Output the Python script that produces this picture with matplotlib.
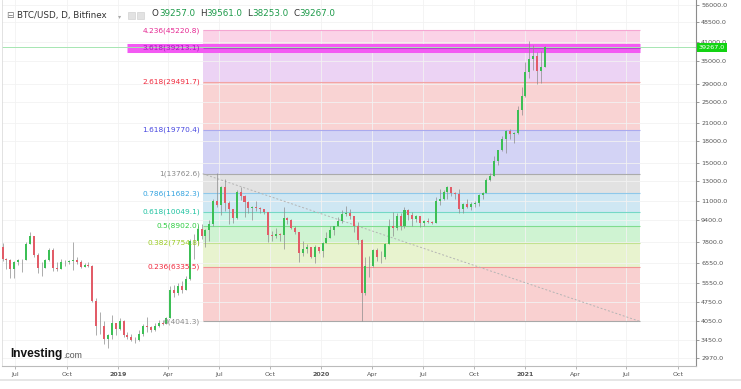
import numpy as np
import pandas as pd
import matplotlib
matplotlib.use("Agg")
import matplotlib.pyplot as plt
from matplotlib.ticker import FixedLocator, FixedFormatter, NullLocator
from matplotlib.patches import Rectangle

# weekly candles (BTC/USD, Bitfinex), one entry per week
week_start = "2018-06-08"
first_open = 7500
close_px = [6800, 6750, 6250, 6600, 6700, 6750, 7700, 8200, 7000, 6300,
            6300, 6700, 7300, 6300, 6250, 6600, 6600, 6650, 6700, 6600,
            6350, 6450, 6400, 4800, 3900, 3900, 3500, 3600, 4000, 3800,
            4050, 3600, 3550, 3450, 3450, 3650, 3900, 3850, 3750, 3900,
            4000, 3950, 4150, 5250, 5100, 5400, 5250, 5750, 7900, 7900,
            8700, 8200, 8600, 9100, 11000, 10600, 12300, 10800, 10300, 9550,
            11800, 11400, 10900, 10350, 10400, 10350, 10250, 10050, 8300, 8200,
            8350, 8250, 9550, 9400, 8800, 8500, 7100, 7350, 7500, 6900,
            7500, 7250, 7750, 8100, 8650, 8900, 9300, 9850, 9900, 9650,
            8900, 7950, 5100, 6400, 6400, 7300, 6900, 6900, 7700, 8900,
            8750, 9700, 8900, 10200, 9750, 9450, 9650, 9150, 9300, 9250,
            9180, 11000, 11200, 11850, 12300, 11700, 11650, 10250, 10700, 10450,
            10700, 10800, 11550, 11750, 13050, 13550, 15300, 16700, 18400, 19700,
            19200, 19250, 23400, 26300, 32000, 35600, 36600, 32300, 33500, 39267]
high_px = [7750, 6850, 6800, 6650, 6800, 6800, 7800, 8500, 8200, 7150,
           6600, 6800, 7400, 7400, 6600, 6800, 6750, 6700, 7800, 6900,
           6700, 6550, 6600, 6450, 4900, 4350, 4050, 3650, 4250, 4000,
           4150, 4100, 3700, 3650, 3550, 3750, 3950, 4200, 3900, 3980,
           4080, 4100, 4200, 5400, 5450, 5550, 5650, 5900, 8000, 8350,
           8900, 9100, 8700, 9400, 11200, 13800, 12400, 13150, 11000, 10200,
           12000, 12350, 11500, 10950, 10500, 10950, 10450, 10300, 10000, 8550,
           8800, 8400, 10450, 9600, 9450, 8900, 8200, 7850, 7650, 7400,
           7600, 7450, 7800, 8450, 8950, 8950, 9600, 10150, 10500, 10250,
           9650, 9200, 8000, 6900, 6950, 7350, 7450, 7250, 7750, 9450,
           10050, 9950, 9900, 10400, 10250, 10000, 9750, 9700, 9350, 9500,
           9300, 11300, 12100, 12050, 12450, 12350, 11800, 12100, 10800, 11150,
           10900, 10950, 11650, 11800, 13300, 13900, 15900, 16800, 18800, 19800,
           19900, 19400, 24200, 28300, 34800, 41500, 40100, 37800, 38000, 39700]
low_px = [6650, 6250, 5780, 5800, 6450, 6100, 6700, 7650, 6900, 6050,
          5880, 6300, 6650, 6150, 6150, 6250, 6400, 6500, 6200, 6500,
          6300, 6350, 6350, 4750, 3600, 3650, 3350, 3250, 3500, 3600,
          3750, 3550, 3500, 3420, 3380, 3420, 3580, 3700, 3700, 3720,
          3850, 3920, 3950, 4150, 4950, 5050, 5100, 5250, 5700, 6800,
          7600, 8000, 7500, 7900, 8950, 10400, 9800, 10100, 9100, 9150,
          9450, 11100, 9600, 9900, 9400, 10100, 9950, 9850, 7800, 7850,
          8100, 7900, 7350, 9050, 8700, 8350, 6600, 6950, 7100, 6850,
          6550, 7100, 6900, 7750, 8050, 8250, 8900, 9150, 9650, 9450,
          8500, 7700, 4041.3, 5050, 5850, 6350, 6650, 6550, 6800, 7700,
          8200, 8600, 8650, 8750, 9350, 8950, 9200, 8850, 8950, 9150,
          9050, 9150, 10600, 11100, 11150, 11400, 11150, 9900, 9900, 10350,
          10150, 10400, 10550, 11200, 11700, 12950, 13500, 14800, 16600, 16300,
          18300, 17700, 19100, 22400, 26000, 30400, 32500, 29000, 29300, 33400]

# fibonacci tool
fib_levels = ["0", "0.236", "0.382", "0.5", "0.618", "0.786", "1", "1.618", "2.618", "3.618", "4.236"]
fib_prices = [4041.3, 6335.5, 7754.8, 8902.0, 10049.1, 11682.3, 13762.6, 19770.4, 29491.7, 39213.1, 45220.8]
fib_start = "2019-06-02"
fib_end = "2021-07-25"

# axes
y_ticks = [56000, 48500, 41000, 35000, 29000, 25000, 21000, 18000, 15000, 13000,
           11000, 9400, 7800, 6550, 5550, 4750, 4050, 3450, 2970]
x_ticks = ["2018-07-01", "2018-10-01", "2019-01-01", "2019-04-01", "2019-07-01",
           "2019-10-01", "2020-01-01", "2020-04-01", "2020-07-01", "2020-10-01",
           "2021-01-01", "2021-04-01", "2021-07-01", "2021-10-01"]
x_labels = ["Jul", "Oct", "2019", "Apr", "Jul", "Oct", "2020", "Apr", "Jul", "Oct",
            "2021", "Apr", "Jul", "Oct"]

header = "BTC/USD, D, Bitfinex"
ohlc = [("O", "39257.0"), ("H", "39561.0"), ("L", "38253.0"), ("C", "39267.0")]

UP = "#3cbf55"
DOWN = "#e25c68"
WICK = "#8c8c8c"
line_cols = ["#a8a8a8", "#f29494", "#c2e290", "#80dc8e", "#74d8c6", "#8ec8ea",
             "#ababab", "#aaaaee", "#f2a4a4", "#b444cc", "#f5a6d2"]
label_cols = ["#8a8a8a", "#f0283c", "#9acb22", "#2ecc40", "#1ec2a0", "#35a4e0",
              "#8a8a8a", "#4747e0", "#f0283c", "#a21fb8", "#e52792"]
fill_cols = ["#f9d0d0", "#e8f3cf", "#cff3d2", "#cff5e8", "#cfe7f3",
             "#e2e2e2", "#d3d3f5", "#f9d3d3", "#ecd3f4", "#fbd3e7"]

plt.rcParams['font.family'] = ['DejaVu Sans']

fig = plt.figure(figsize=(7.41, 3.89), dpi=100)
ax = fig.add_axes([2 / 741, 1 - 366 / 389, 693.5 / 741, 366 / 389])
ax.set_yscale("log")
ax.set_xlim(pd.Timestamp("2018-06-07"), pd.Timestamp("2021-11-02"))
ax.set_ylim(2790, 58200)

f0, f1 = pd.Timestamp(fib_start), pd.Timestamp(fib_end)

# fib bands and levels
for i in range(len(fib_prices) - 1):
    ax.fill_between([f0, f1], fib_prices[i], fib_prices[i + 1], color=fill_cols[i],
                    linewidth=0, zorder=0.5)

# selected 3.618 level highlight
ax.hlines(fib_prices[9], f0 - pd.Timedelta(days=135), f1, color="#f35af3", lw=6.5, zorder=1)
ax.hlines(fib_prices, f0, f1, colors=line_cols, lw=0.8, zorder=1.2)

# candles
dates = pd.date_range(week_start, periods=len(close_px), freq="7D")
close = np.array(close_px, dtype=float)
open_ = np.concatenate([[first_open], close[:-1]])
cols = np.where(close >= open_, UP, DOWN)
ax.vlines(dates, low_px, high_px, colors=WICK, lw=0.5, zorder=3)
ax.bar(dates, close - open_, bottom=open_, width=3.6, color=cols, linewidth=0, zorder=4)

# trend line of the fib tool
ax.plot([f0, f1], [fib_prices[6], fib_prices[0]], ls=(0, (2, 2)), color="#b4b4b4",
        lw=0.7, zorder=2)

for lvl, p, c in zip(fib_levels, fib_prices, label_cols):
    ax.annotate(f"{lvl}({p:.1f})", xy=(f0, p), xytext=(-2, 0), textcoords="offset points",
                ha="right", va="center", fontsize=5.3, color=c, zorder=6)

# last price line + tag
ax.axhline(close[-1], color="#a6e6b2", lw=0.7, zorder=2.5)
ax.annotate(f"{close[-1]:.1f}", xy=(1, close[-1]), xycoords=("axes fraction", "data"),
            xytext=(2.3, 0), textcoords="offset points", ha="left", va="center",
            fontsize=4.6, color="white", zorder=10, annotation_clip=False,
            bbox=dict(boxstyle="square,pad=0.25", fc="#12d312", ec="none"))

# axes styling
ax.yaxis.tick_right()
ax.yaxis.set_major_locator(FixedLocator(y_ticks))
ax.yaxis.set_major_formatter(FixedFormatter([f"{v:.1f}" for v in y_ticks]))
ax.yaxis.set_minor_locator(NullLocator())
ax.set_xticks(pd.to_datetime(x_ticks))
ax.set_xticklabels(x_labels)
for t in ax.get_xticklabels():
    if t.get_text().isdigit():
        t.set_fontweight("bold")
ax.tick_params(axis="y", length=2.5, width=0.6, color="#888888", labelsize=4.6,
               labelcolor="#555555", pad=1.5)
ax.tick_params(axis="x", length=2, width=0.6, color="#aaaaaa", labelsize=4.5,
               labelcolor="#555555", pad=2)
ax.grid(True, color="#f2f2f2", lw=0.6, zorder=0)
ax.set_axisbelow(True)
ax.spines["top"].set_visible(False)
ax.spines["left"].set_color("#dddddd")
ax.spines["left"].set_linewidth(0.6)
ax.spines["right"].set_color("#8c8c8c")
ax.spines["right"].set_linewidth(0.8)
ax.spines["bottom"].set_color("#bbbbbb")
ax.spines["bottom"].set_linewidth(0.8)

# header
hy = 1 - 18 / 389
fig.text(6 / 741, hy, "\u229f", fontsize=6.5, color="#777777", va="baseline")
fig.text(17 / 741, hy, header, fontsize=6.3, color="#333333", va="baseline")
fig.text(118 / 741, hy, "\u25be", fontsize=4.5, color="#aaaaaa", va="baseline")
for x0 in (128, 137):
    fig.patches.append(Rectangle((x0 / 741, 1 - 19 / 389), 7 / 741, 7 / 389,
                                 transform=fig.transFigure, fc="#e2e2e2", ec="#cccccc", lw=0.4))
prev = fig.text(152 / 741, hy, "", fontsize=6.3)
first = True
for key, val in ohlc:
    prev = ax.annotate(key, xy=(1, 0), xycoords=prev, xytext=(0 if first else 3.5, 0),
                       textcoords="offset points", va="bottom", ha="left",
                       fontsize=6.3, color="#333333", annotation_clip=False)
    prev = ax.annotate(val, xy=(1, 0), xycoords=prev, va="bottom", ha="left",
                       fontsize=6.3, color="#1d9a4a", annotation_clip=False)
    first = False

# watermark
logo = fig.text(10 / 741, 1 - 357 / 389, "Investing", fontsize=8.6, fontweight="bold",
                family="Liberation Sans", color="#111111", va="baseline")
ax.annotate(".com", xy=(1, 0), xycoords=logo, xytext=(0.3, 0), textcoords="offset points",
            va="bottom", ha="left", fontsize=6.3, family="Liberation Sans",
            color="#555555", annotation_clip=False)

# bottom strip
fig.patches.append(Rectangle((0, 1 - 381 / 389), 1, 2 / 389, transform=fig.transFigure,
                             fc="#e6e6e6", ec="none"))

fig.savefig("out.png", dpi=100)
